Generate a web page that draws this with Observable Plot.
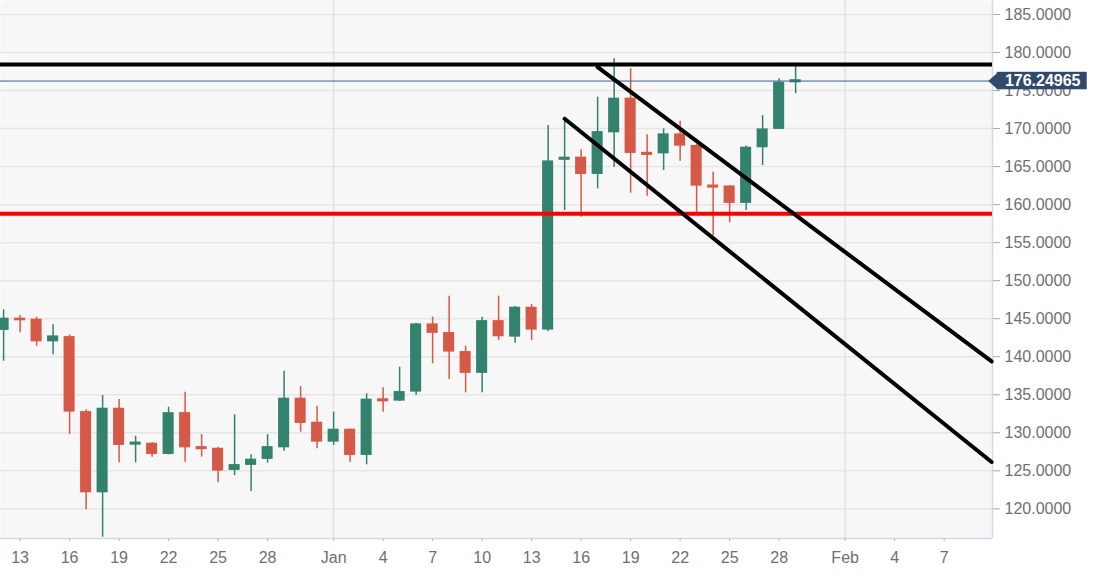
<!DOCTYPE html>
<html>
<head>
<meta charset="utf-8">
<script src="https://cdn.jsdelivr.net/npm/d3@7"></script>
<script src="https://cdn.jsdelivr.net/npm/@observablehq/plot@0.6"></script>
<style>
  html, body { margin: 0; padding: 0; background: #ffffff; overflow: hidden; }
  #chart svg { display: block; }
</style>
</head>
<body>
<div id="chart"></div>
<script>
// ---- data ----
const dates = [
  "2020-12-12","2020-12-13","2020-12-14","2020-12-15","2020-12-16","2020-12-17","2020-12-18",
  "2020-12-19","2020-12-20","2020-12-21","2020-12-22","2020-12-23","2020-12-24","2020-12-25",
  "2020-12-26","2020-12-27","2020-12-28","2020-12-29","2020-12-30","2020-12-31","2021-01-01",
  "2021-01-02","2021-01-03","2021-01-04","2021-01-05","2021-01-06","2021-01-07","2021-01-08",
  "2021-01-09","2021-01-10","2021-01-11","2021-01-12","2021-01-13","2021-01-14","2021-01-15",
  "2021-01-16","2021-01-17","2021-01-18","2021-01-19","2021-01-20","2021-01-21","2021-01-22",
  "2021-01-23","2021-01-24","2021-01-25","2021-01-26","2021-01-27","2021-01-28","2021-01-29"
];
const open = [
  143.54,145.00,144.86,142.04,142.57,132.71,122.19,
  133.15,128.45,128.55,127.23,132.57,128.10,127.89,
  125.13,125.79,126.58,128.10,134.47,131.31,128.85,
  130.39,127.10,134.40,134.24,135.43,144.24,143.10,
  140.60,137.89,144.67,142.66,146.43,143.58,165.90,
  166.16,164.05,169.52,173.92,166.80,166.76,169.22,
  167.70,162.50,162.38,160.24,167.55,169.97,176.10
];
const high = [
  146.17,145.42,145.20,144.20,142.88,133.02,134.90,
  134.38,129.55,128.70,133.36,135.34,129.77,128.05,
  132.36,127.10,129.77,138.10,136.08,133.50,132.71,
  130.50,135.13,135.91,138.62,144.40,145.20,147.96,
  141.38,145.20,147.96,146.60,146.87,170.40,171.50,
  167.21,174.13,179.17,177.86,169.18,169.97,170.97,
  167.90,164.26,162.50,167.70,171.72,176.55,178.29
];
const low = [
  139.41,143.15,141.38,140.25,129.77,119.87,116.27,
  126.05,126.05,126.79,127.10,126.13,126.80,123.42,
  124.38,122.28,126.00,127.58,130.08,127.89,128.33,
  126.13,125.79,132.71,134.10,134.90,139.07,137.00,
  135.26,135.26,142.13,141.78,142.13,143.30,159.23,
  158.35,162.08,164.92,161.50,161.11,164.49,165.71,
  159.00,155.94,157.61,159.23,165.14,169.90,174.57
];
const close = [
  144.99,144.80,142.04,142.66,132.80,122.19,133.15,
  128.42,128.70,127.23,132.57,128.10,127.85,125.04,
  125.74,126.45,128.10,134.47,131.31,128.85,130.39,
  127.10,134.34,134.15,135.34,144.24,143.15,140.69,
  137.89,144.67,142.70,146.43,143.58,165.67,166.16,
  164.05,169.52,173.92,166.81,166.55,169.22,167.77,
  162.51,162.25,160.24,167.47,169.88,176.02,176.35
];

const resistanceLevel = [178.43];
const supportLevel = [158.79];
const lastPrice = [176.24965];

const upperTrendDates = ["2021-01-17T00:00Z", "2021-02-09T21:00Z"];
const upperTrendValues = [178.07, 139.38];
const lowerTrendDates = ["2021-01-15T00:00Z", "2021-02-09T21:00Z"];
const lowerTrendValues = [171.29, 126.16];

const xTickDates = [
  "2020-12-13","2020-12-16","2020-12-19","2020-12-22","2020-12-25","2020-12-28",
  "2021-01-01","2021-01-04","2021-01-07","2021-01-10","2021-01-13","2021-01-16",
  "2021-01-19","2021-01-22","2021-01-25","2021-01-28","2021-02-01","2021-02-04","2021-02-07"
];
const monthStarts = ["2021-01-01", "2021-02-01"];
const yTicks = [120,125,130,135,140,145,150,155,160,165,170,175,180,185];

// ---- build ----
const DAY = 86400000;
const parse = s => new Date(s.length === 10 ? s + "T00:00Z" : s);
const candles = dates.map((d, i) => ({
  date: parse(d), open: open[i], high: high[i], low: low[i], close: close[i]
}));
const up = d => d.close >= d.open;
const GREEN = "#32826e", RED = "#d65846";

const base = parse("2020-12-13");
const xMin = new Date(+base - 1.188 * DAY);
const xMax = new Date(+base + 58.93 * DAY);
const yMin = 116.1, yMax = 186.84;

const upperTrend = upperTrendDates.map((d, i) => ({date: parse(d), value: upperTrendValues[i]}));
const lowerTrend = lowerTrendDates.map((d, i) => ({date: parse(d), value: lowerTrendValues[i]}));

const monthNames = ["Jan","Feb","Mar","Apr","May","Jun","Jul","Aug","Sep","Oct","Nov","Dec"];
const fmtX = d => d.getUTCDate() === 1 ? monthNames[d.getUTCMonth()] : String(d.getUTCDate());

const leftArrow = {
  draw(ctx) { ctx.moveTo(-9, 0); ctx.lineTo(1, -9); ctx.lineTo(1, 9); ctx.closePath(); }
};

const labelX1 = new Date(+xMax + 0.29 * DAY);
const labelX2 = new Date(+xMax + 5.74 * DAY);
const labelTextX = new Date(+xMax + 0.75 * DAY);

const chart = Plot.plot({
  width: 1113,
  height: 577,
  marginLeft: 0,
  marginRight: 121,
  marginTop: 0,
  marginBottom: 39,
  style: {fontFamily: "'Liberation Sans', Arial, sans-serif", fontSize: "16px", background: "#ffffff"},
  x: {type: "utc", domain: [xMin, xMax]},
  y: {domain: [yMin, yMax]},
  marks: [
    Plot.frame({fill: "#f7f7f7", stroke: null}),
    Plot.ruleY(yTicks, {stroke: "#e6e6e6", strokeWidth: 1.5}),
    Plot.ruleX(monthStarts.map(parse), {stroke: "#e2e2e2", strokeWidth: 1.5}),
    Plot.ruleX([xMax], {stroke: "#d3d9e3", strokeWidth: 1.5}),
    Plot.ruleY([yMin], {stroke: "#d3d9e3", strokeWidth: 1.5}),
    Plot.axisX({
      ticks: xTickDates.map(parse), tickFormat: fmtX, tickSize: 3, tickPadding: 10,
      stroke: "#b8b8b8", fill: "#707070", fontSize: 16, label: null
    }),
    Plot.axisY({
      anchor: "right", ticks: yTicks, tickFormat: d => d.toFixed(4), tickSize: 7, tickPadding: 5,
      stroke: "#a8a8a8", fill: "#707070", fontSize: 16, label: null
    }),
    // wicks
    Plot.ruleX(candles, {x: "date", y1: "low", y2: "high", stroke: d => up(d) ? GREEN : RED, strokeWidth: 1.5}),
    // bodies
    Plot.rect(candles, {
      x1: d => new Date(+d.date - 0.335 * DAY),
      x2: d => new Date(+d.date + 0.335 * DAY),
      y1: "open", y2: "close",
      fill: d => up(d) ? GREEN : RED,
      insetTop: -0.6, insetBottom: -0.6
    }),
    // horizontal levels
    Plot.ruleY(lastPrice, {stroke: "#3d5f86", strokeWidth: 1}),
    Plot.ruleY(resistanceLevel, {stroke: "#000000", strokeWidth: 4}),
    Plot.ruleY(supportLevel, {stroke: "#ff0000", strokeWidth: 4}),
    // trend lines
    Plot.line(upperTrend, {x: "date", y: "value", stroke: "#000000", strokeWidth: 4}),
    Plot.line(lowerTrend, {x: "date", y: "value", stroke: "#000000", strokeWidth: 4}),
    // last price label
    Plot.rect(lastPrice, {x1: () => labelX1, x2: () => labelX2, y1: d => d - 1.15, y2: d => d + 1.15, fill: "#31496a"}),
    Plot.dot(lastPrice, {x: () => labelX1, y: d => d, symbol: leftArrow, fill: "#31496a", stroke: null}),
    Plot.text(lastPrice, {
      x: () => labelTextX, y: d => d, text: d => d.toFixed(5),
      textAnchor: "start", fill: "#ffffff", fontWeight: "bold", fontSize: 16
    })
  ]
});
document.getElementById("chart").appendChild(chart);
</script>
</body>
</html>
